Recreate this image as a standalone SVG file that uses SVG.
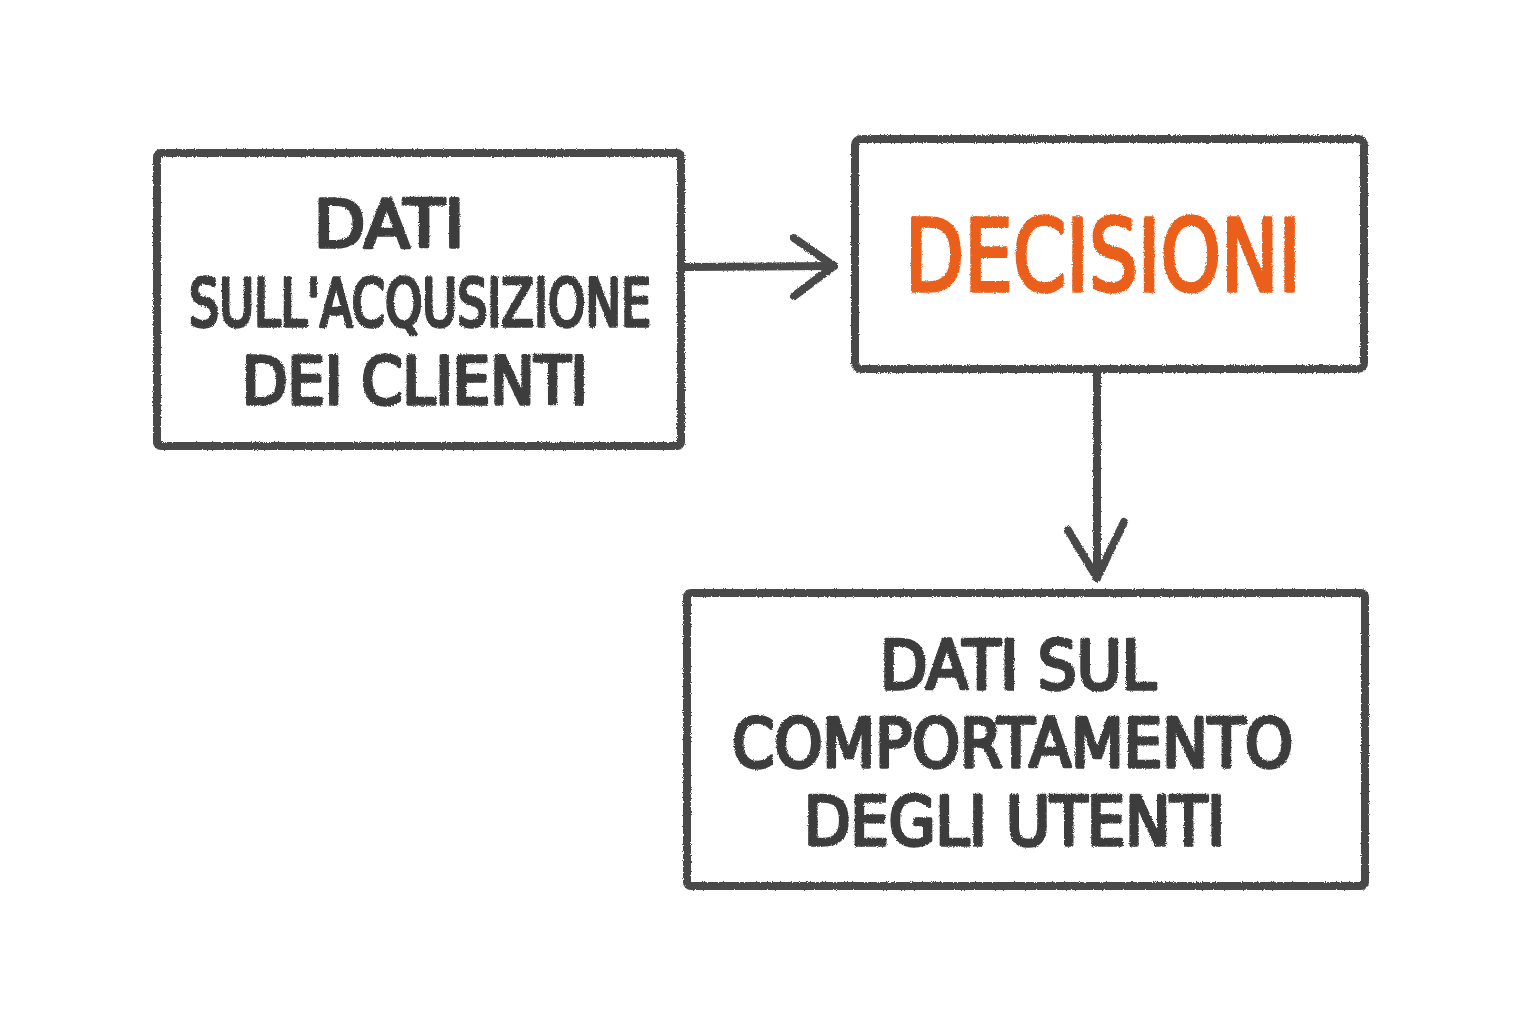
<svg xmlns="http://www.w3.org/2000/svg" width="1536" height="1024" viewBox="0 0 1536 1024">
<defs>
<filter id="pencil" x="-5%" y="-5%" width="110%" height="110%">
<feTurbulence type="fractalNoise" baseFrequency="0.9" numOctaves="2" seed="3" result="n"/>
<feDisplacementMap in="SourceGraphic" in2="n" scale="3" xChannelSelector="R" yChannelSelector="G"/>
</filter>
<style>
.box{fill:#fff;stroke:#4a4a4a;stroke-width:8;stroke-linejoin:round;stroke-linecap:round}
.conn{fill:none;stroke:#4a4a4a;stroke-width:8;stroke-linecap:round;stroke-linejoin:round}
.t{font-family:"DejaVu Sans Condensed","DejaVu Sans","Liberation Sans",sans-serif;font-weight:normal;fill:#3c3c3c;stroke:#3c3c3c;stroke-width:3.5;stroke-linejoin:round;stroke-linecap:round}
.o{fill:#ea5f1a;stroke:#ea5f1a}
</style>
</defs>
<rect width="1536" height="1024" fill="#fff"/>
<g filter="url(#pencil)">
<g id="node-acquisizione">
<rect class="box" x="157" y="153" width="524" height="293" rx="4"/>
<text class="t" x="314" y="247" font-size="66" textLength="150" lengthAdjust="spacingAndGlyphs">DATI</text>
<text class="t" x="189" y="326" font-size="66" textLength="462" lengthAdjust="spacingAndGlyphs">SULL'ACQUSIZIONE</text>
<text class="t" x="242" y="404" font-size="66" textLength="346" lengthAdjust="spacingAndGlyphs">DEI CLIENTI</text>
</g>
<g id="node-decisioni">
<rect class="box" x="855" y="139" width="509" height="230" rx="6"/>
<text class="t o" x="905" y="291" font-size="100" textLength="396" lengthAdjust="spacingAndGlyphs">DECISIONI</text>
</g>
<g id="node-comportamento">
<rect class="box" x="687" y="593" width="678" height="293" rx="4"/>
<text class="t" x="880" y="689" font-size="67" textLength="276" lengthAdjust="spacingAndGlyphs">DATI SUL</text>
<text class="t" x="732" y="767" font-size="67" textLength="561" lengthAdjust="spacingAndGlyphs">COMPORTAMENTO</text>
<text class="t" x="804" y="845" font-size="67" textLength="421" lengthAdjust="spacingAndGlyphs">DEGLI UTENTI</text>
</g>
<g id="connectors">
<path class="conn" d="M685 267 L834 266"/>
<path class="conn" d="M794 238 L834 266 L794 296"/>
<path class="conn" d="M1097 373 L1097 578"/>
<path class="conn" d="M1068 530 L1097 578 L1124 522"/>
</g>
</g>
</svg>
